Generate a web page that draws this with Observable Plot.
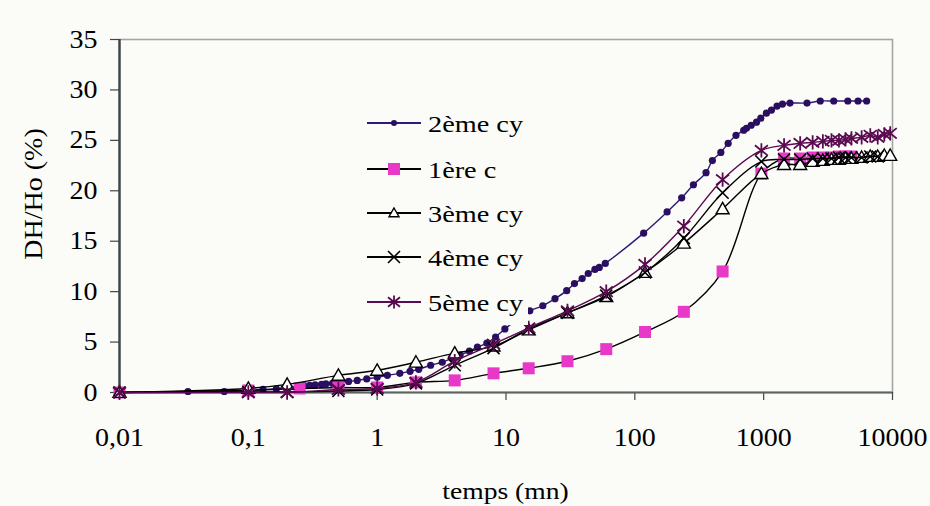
<!DOCTYPE html>
<html><head><meta charset="utf-8">
<script src="https://cdn.jsdelivr.net/npm/d3@7"></script>
<script src="https://cdn.jsdelivr.net/npm/@observablehq/plot@0.6"></script>
<style>
html,body{margin:0;padding:0;background:#fbfbf8}
svg{display:block}
</style>
</head><body><div id="chart"></div>
<script>
// ---------- data ----------
const seriesNames = ["2ème cy", "1ère c", "3ème cy", "4ème cy", "5ème cy"];

// 2ème cycle (dense readings)
const t2 = [0.01, 0.034, 0.065, 0.1, 0.13, 0.165, 0.2, 0.27, 0.3, 0.33, 0.37, 0.4, 0.45, 0.5, 0.6, 0.7, 0.83, 1.0, 1.2, 1.5, 1.8, 2.1, 2.6, 3.2, 3.8, 4.4, 5.2, 6.0, 7.1, 8.3, 9.8,
  15.3, 19.3, 24, 29.6, 34, 39, 43.5, 49, 53, 59, 117, 178, 231, 285, 357, 400, 465, 530, 610, 700, 735, 800, 880, 950, 1050, 1150, 1270, 1400, 1600, 2170, 2750, 3500, 4500, 5400, 6300];
const v2 = [0, 0.1, 0.1, 0.2, 0.3, 0.35, 0.4, 0.7, 0.7, 0.75, 0.8, 0.85, 0.9, 1.0, 1.1, 1.2, 1.35, 1.5, 1.7, 1.9, 2.1, 2.3, 2.7, 3.0, 3.4, 3.7, 4.1, 4.5, 4.9, 5.5, 6.3,
  8.1, 8.6, 9.3, 10.1, 10.8, 11.3, 11.8, 12.2, 12.4, 12.8, 15.8, 17.9, 19.3, 20.6, 21.8, 23.0, 23.8, 24.7, 25.5, 26.0, 26.2, 26.5, 26.8, 27.2, 27.7, 28.0, 28.4, 28.6, 28.7, 28.7, 28.9, 28.9, 28.9, 28.9, 28.9];

// 1ère cycle
const t1 = [0.01, 0.1, 0.25, 0.5, 1, 2, 4, 8, 15, 30, 60, 120, 240, 480, 960, 1440, 1920, 2400, 2880, 3360, 3840, 4320, 4800];
const v1 = [0, 0.2, 0.4, 0.5, 0.5, 1.0, 1.2, 1.9, 2.4, 3.1, 4.3, 6.0, 8.0, 12.0, 21.7, 23.2, 23.2, 23.3, 23.3, 23.3, 23.4, 23.4, 23.4];

// 3ème, 4ème, 5ème cycles share reading times
const tc = [0.01, 0.1, 0.2, 0.5, 1, 2, 4, 8, 15, 30, 60, 120, 240, 480, 960, 1440, 1920, 2400, 2880, 3360, 3840, 4320, 4800, 5760, 6720, 7680, 8640, 9600];
const v3 = [0, 0.4, 0.8, 1.7, 2.2, 3.0, 3.9, 4.6, 6.2, 7.9, 9.5, 11.9, 14.8, 18.2, 21.7, 22.6, 22.6, 22.9, 23.0, 23.1, 23.1, 23.2, 23.2, 23.3, 23.4, 23.4, 23.5, 23.5];
const v4 = [0, 0.05, 0.05, 0.15, 0.3, 0.9, 2.7, 4.4, 6.3, 7.9, 9.6, 11.9, 15.3, 19.8, 22.9, 23.1, 23.1, 23.2, 23.2, 23.2, 23.3, 23.3, 23.3, 23.3, 23.4, 23.4, null, null];
const v5 = [0, 0, 0, 0.3, 0.4, 1.0, 3.1, 4.8, 6.4, 8.1, 10.0, 12.7, 16.5, 21.1, 24.0, 24.5, 24.7, 24.8, 24.9, 25.0, 25.0, 25.1, 25.2, 25.3, 25.5, 25.3, 25.6, 25.7];

const xTicks = [0.01, 0.1, 1, 10, 100, 1000, 10000];
const xTickLabels = ["0,01", "0,1", "1", "10", "100", "1000", "10000"];
const yTicks = [0, 5, 10, 15, 20, 25, 30, 35];
const xTitle = "temps (mn)";
const yTitle = "DH/Ho (%)";

// ---------- symbols ----------
const rOf = size => Math.sqrt(size / Math.PI);
const symSquare = {draw(c, s) { const r = rOf(s); c.rect(-r, -r, 2 * r, 2 * r); }};
const symTri = {draw(c, s) { const r = rOf(s); c.moveTo(0, -r); c.lineTo(r, r * 0.75); c.lineTo(-r, r * 0.75); c.closePath(); }};
const symX = {draw(c, s) { const r = rOf(s); c.moveTo(-r, -r); c.lineTo(r, r); c.moveTo(-r, r); c.lineTo(r, -r); }};
const symStar = {draw(c, s) { const r = rOf(s); c.moveTo(-r, -r * 0.8); c.lineTo(r, r * 0.8); c.moveTo(-r, r * 0.8); c.lineTo(r, -r * 0.8); c.moveTo(0, -r * 1.1); c.lineTo(0, r * 1.1); }};
const symCircle = {draw(c, s) { const r = rOf(s); c.moveTo(r, 0); c.arc(0, 0, r, 0, 2 * Math.PI); }};

const rows = (ts, vs) => ts.map((t, i) => ({t, v: vs[i]})).filter(d => d.v != null);

const styles = [
  {name: seriesNames[0], data: rows(t2, v2), line: "#2e1a78", lw: 1.4, sym: symCircle, r: 3.6, lr: 3, fill: "#2a0f60", stroke: "none", sw: 0},
  {name: seriesNames[1], data: rows(t1, v1), line: "#000000", lw: 1.4, sym: symSquare, r: 6, lr: 6, fill: "#e838c8", stroke: "none", sw: 0},
  {name: seriesNames[2], data: rows(tc, v3), line: "#000000", lw: 1.4, sym: symTri, r: 6.5, lr: 5, fill: "#ffffff", stroke: "#000000", sw: 1.4},
  {name: seriesNames[3], data: rows(tc, v4), line: "#000000", lw: 1.4, sym: symX, r: 6, lr: 6, fill: "none", stroke: "#000000", sw: 1.6},
  {name: seriesNames[4], data: rows(tc, v5), line: "#5a0a50", lw: 1.4, sym: symStar, r: 6.5, lr: 6, fill: "none", stroke: "#5a0a50", sw: 1.8}
];

const seriesMarks = styles.flatMap(s => [
  Plot.line(s.data, {x: "t", y: "v", stroke: s.line, strokeWidth: s.lw, curve: "catmull-rom"}),
  Plot.dot(s.data, {x: "t", y: "v", symbol: s.sym, r: s.r, fill: s.fill, stroke: s.stroke, strokeWidth: s.sw})
]);

const serif = "'Liberation Serif', 'Times New Roman', serif";

const chart = Plot.plot({
  width: 930, height: 506,
  marginLeft: 119, marginRight: 38, marginTop: 39, marginBottom: 114,
  style: {background: "#fbfbf8", fontFamily: serif, color: "#000", overflow: "visible"},
  x: {type: "log", domain: [0.01, 10000]},
  y: {domain: [0, 35]},
  marks: [
    Plot.frame({stroke: "#a4a6a6", strokeWidth: 1.6}),
    Plot.axisY({ticks: yTicks, tickSize: 9, tickPadding: 13, fontSize: 25, label: null, stroke: "#3e4646", strokeWidth: 1.2}),
    Plot.axisX({ticks: xTicks, tickFormat: d => xTickLabels[xTicks.indexOf(d)], tickSize: 8, tickPadding: 28, fontSize: 25, label: null, stroke: "#3e4646", strokeWidth: 1.2}),
    Plot.ruleY([0], {stroke: "#5c6464", strokeWidth: 2}),
    Plot.ruleX([0.01], {stroke: "#3e4646", strokeWidth: 2.4}),
    ...seriesMarks
  ]
});
document.getElementById("chart").appendChild(chart);

const svg = d3.select(chart);

function stretch(sel, k) {
  sel.each(function() {
    const w = this.getComputedTextLength();
    if (w > 0) { this.setAttribute("textLength", w * k); this.setAttribute("lengthAdjust", "spacingAndGlyphs"); }
  });
}
stretch(svg.selectAll('g[aria-label="x-axis tick label"] text, g[aria-label="y-axis tick label"] text'), 1.12);

// ---------- legend ----------
const lg = svg.append("g").attr("aria-label", "legend");
lg.append("rect").attr("x", 362).attr("y", 104).attr("width", 166).attr("height", 221).attr("fill", "#fbfbf8");
const rowY = [123, 169, 213, 257, 302];
styles.forEach((s, i) => {
  const y = rowY[i];
  lg.append("line").attr("x1", 367).attr("x2", 421).attr("y1", y).attr("y2", y).attr("stroke", s.line).attr("stroke-width", 2);
  lg.append("path").attr("transform", `translate(394,${y})`)
    .attr("d", d3.symbol(s.sym, Math.PI * s.lr * s.lr)())
    .attr("fill", s.fill).attr("stroke", s.stroke).attr("stroke-width", s.sw);
  lg.append("text").attr("x", 428).attr("y", y + 8.5).attr("text-anchor", "start")
    .attr("font-family", serif).attr("font-size", 23).attr("fill", "#000").text(s.name);
});
stretch(lg.selectAll("text"), 1.23);

// ---------- axis titles ----------
const tx = svg.append("text").attr("x", 505.5).attr("y", 499).attr("text-anchor", "middle")
  .attr("font-family", serif).attr("font-size", 24).attr("fill", "#000").text(xTitle);
stretch(tx, 1.15);
const ty = svg.append("text").attr("transform", "translate(42,194) rotate(-90)").attr("text-anchor", "middle")
  .attr("font-family", serif).attr("font-size", 25).attr("fill", "#000").text(yTitle);
stretch(ty, 1.12);
</script>
</body></html>
